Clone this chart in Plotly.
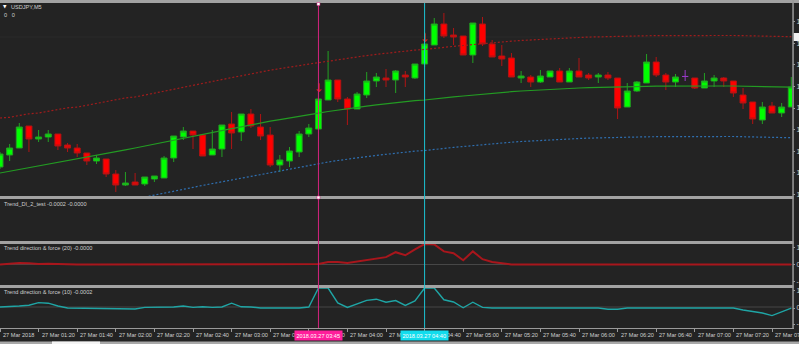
import plotly.graph_objects as go
from plotly.subplots import make_subplots

W, H = 799, 344
PLOT_R = 792          # right edge of the plot area in px
PX_PER_BAR = 9.65

# ---------------- data ----------------
bar_index = list(range(83))

opens = [
    105.5825, 105.6125, 105.63, 105.685, 105.6525, 105.6575, 105.665, 105.6375, 105.63, 105.6175,
    105.5975, 105.6025, 105.565, 105.5375, 105.545, 105.54, 105.5525, 105.555, 105.605, 105.6575,
    105.6725, 105.6625, 105.6125, 105.6275, 105.69, 105.67, 105.715, 105.6825, 105.6625, 105.5875,
    105.5975, 105.62, 105.665, 105.6775, 105.75, 105.8, 105.7525, 105.7275, 105.7625, 105.7975,
    105.805, 105.8, 105.8125, 105.805, 105.84, 105.8875, 105.94, 105.9125, 105.91, 105.8625,
    105.94, 105.89, 105.86, 105.855, 105.805, 105.8075, 105.795, 105.8075, 105.8225, 105.795,
    105.8225, 105.8125, 105.8075, 105.8125, 105.805, 105.7325, 105.7725, 105.7925, 105.845, 105.8125,
    105.795, 105.8088, 105.805, 105.78, 105.7975, 105.805, 105.7975, 105.7625, 105.745, 105.7,
    105.735, 105.7175, 105.7325]
highs = [
    105.62, 105.64, 105.6925, 105.685, 105.675, 105.675, 105.665, 105.6425, 105.64, 105.6175,
    105.6125, 105.6025, 105.575, 105.57, 105.5675, 105.5575, 105.56, 105.61, 105.66, 105.6825,
    105.6725, 105.6625, 105.675, 105.6875, 105.72, 105.715, 105.7275, 105.715, 105.6825, 105.6125,
    105.6325, 105.6725, 105.69, 105.7925, 105.8725, 105.8, 105.7575, 105.77, 105.82, 105.8175,
    105.8275, 105.825, 105.8225, 105.84, 105.92, 105.955, 105.9675, 105.93, 105.91, 105.9425,
    105.9575, 105.9, 105.8875, 105.8675, 105.8225, 105.8125, 105.825, 105.8225, 105.83, 105.83,
    105.855, 105.8175, 105.8175, 105.82, 105.805, 105.7925, 105.7975, 105.865, 105.8575, 105.8175,
    105.815, 105.825, 105.805, 105.8175, 105.8125, 105.8075, 105.7975, 105.78, 105.745, 105.745,
    105.745, 105.7425, 105.8075]
lows = [
    105.5775, 105.5975, 105.63, 105.62, 105.645, 105.645, 105.625, 105.62, 105.6075, 105.5875,
    105.59, 105.5575, 105.52, 105.535, 105.5375, 105.535, 105.545, 105.555, 105.595, 105.65,
    105.6275, 105.61, 105.6125, 105.6075, 105.6275, 105.6475, 105.68, 105.65, 105.5825, 105.57,
    105.5825, 105.6075, 105.6575, 105.6775, 105.75, 105.745, 105.6875, 105.7275, 105.755, 105.7825,
    105.7825, 105.7675, 105.7825, 105.8025, 105.8325, 105.8875, 105.905, 105.8875, 105.8625, 105.8425,
    105.885, 105.8575, 105.835, 105.8075, 105.7925, 105.7825, 105.7925, 105.8075, 105.795, 105.795,
    105.8075, 105.8, 105.7925, 105.8, 105.7025, 105.7325, 105.77, 105.7925, 105.8075, 105.775,
    105.7825, 105.7975, 105.7775, 105.78, 105.7825, 105.7825, 105.7575, 105.7275, 105.69, 105.69,
    105.7175, 105.7075, 105.7325]
closes = [
    105.615, 105.63, 105.6825, 105.6525, 105.6575, 105.665, 105.635, 105.63, 105.6175, 105.5975,
    105.605, 105.565, 105.5375, 105.5425, 105.5375, 105.5575, 105.56, 105.605, 105.66, 105.6725,
    105.6625, 105.61, 105.6275, 105.6875, 105.6675, 105.715, 105.685, 105.66, 105.5875, 105.6,
    105.6225, 105.665, 105.68, 105.7525, 105.8, 105.7525, 105.7275, 105.765, 105.7975, 105.8075,
    105.8, 105.8225, 105.8075, 105.84, 105.89, 105.94, 105.91, 105.9075, 105.8625, 105.9425,
    105.89, 105.8575, 105.8525, 105.8075, 105.81, 105.795, 105.81, 105.8225, 105.795, 105.8225,
    105.8075, 105.805, 105.8125, 105.805, 105.73, 105.7725, 105.795, 105.845, 105.8125, 105.795,
    105.8075, 105.8088, 105.78, 105.7975, 105.805, 105.7975, 105.7675, 105.7425, 105.7025, 105.7325,
    105.7175, 105.7325, 105.7825]
doji_bars = [71]

ma = [
    105.5675, 105.5718, 105.5763, 105.5805, 105.585, 105.589, 105.5935, 105.598, 105.6023, 105.6068,
    105.611, 105.6155, 105.6205, 105.6253, 105.63, 105.635, 105.6395, 105.6445, 105.6495, 105.654,
    105.659, 105.664, 105.6685, 105.6735, 105.6785, 105.683, 105.688, 105.6925, 105.697, 105.701,
    105.7055, 105.7095, 105.7135, 105.7173, 105.7213, 105.725, 105.7288, 105.7318, 105.7348, 105.7378,
    105.7408, 105.7438, 105.746, 105.7485, 105.75, 105.753, 105.7555, 105.7578, 105.76, 105.7625,
    105.7648, 105.767, 105.7693, 105.7708, 105.7725, 105.774, 105.7755, 105.777, 105.778, 105.779,
    105.78, 105.781, 105.7818, 105.7825, 105.783, 105.7835, 105.784, 105.7843, 105.7845, 105.7848,
    105.785, 105.785, 105.785, 105.785, 105.785, 105.785, 105.785, 105.7848, 105.7843, 105.7838,
    105.783, 105.7825, 105.782]
env_upper = [
    105.705, 105.7068, 105.7113, 105.7155, 105.7175, 105.7215, 105.726, 105.7305, 105.7323, 105.7368,
    105.741, 105.7455, 105.7505, 105.7553, 105.7575, 105.7625, 105.767, 105.772, 105.777, 105.7815,
    105.7865, 105.7915, 105.796, 105.801, 105.806, 105.8105, 105.8155, 105.82, 105.8245, 105.8285,
    105.833, 105.8358, 105.8398, 105.8436, 105.8476, 105.8513, 105.8551, 105.8581, 105.8611, 105.8641,
    105.8671, 105.8701, 105.8723, 105.8748, 105.8763, 105.8793, 105.8818, 105.8841, 105.8863, 105.8888,
    105.8911, 105.8933, 105.8956, 105.8971, 105.8988, 105.9003, 105.9018, 105.9033, 105.9043, 105.9053,
    105.9063, 105.9073, 105.9081, 105.9088, 105.9093, 105.9098, 105.9103, 105.9106, 105.9108, 105.9111,
    105.9113, 105.9113, 105.9113, 105.9113, 105.9113, 105.9113, 105.9113, 105.9111, 105.9106, 105.9101,
    105.9093, 105.9088, 105.9083]
env_lower = [
    105.43, 105.4368, 105.4413, 105.4455, 105.4525, 105.4565, 105.461, 105.4655, 105.4723, 105.4768,
    105.481, 105.4855, 105.4905, 105.4953, 105.5025, 105.5075, 105.512, 105.517, 105.522, 105.5265,
    105.5315, 105.5365, 105.541, 105.546, 105.551, 105.5555, 105.5605, 105.565, 105.5695, 105.5735,
    105.578, 105.5832, 105.5872, 105.591, 105.595, 105.5987, 105.6025, 105.6055, 105.6085, 105.6115,
    105.6145, 105.6175, 105.6197, 105.6222, 105.6237, 105.6267, 105.6292, 105.6315, 105.6337, 105.6362,
    105.6385, 105.6407, 105.643, 105.6445, 105.6462, 105.6477, 105.6492, 105.6507, 105.6517, 105.6527,
    105.6537, 105.6547, 105.6555, 105.6562, 105.6567, 105.6572, 105.6577, 105.658, 105.6582, 105.6585,
    105.6587, 105.6587, 105.6587, 105.6587, 105.6587, 105.6587, 105.6587, 105.6585, 105.658, 105.6575,
    105.6567, 105.6562, 105.6557]

trend_force_20 = [
    0.0, 0.05, 0.07, 0.06, 0.03, 0.04, 0.02, 0.01, 0.0, 0.0,
    0.0, 0.0, 0.0, 0.0, 0.0, 0.0, 0.0, 0.0, 0.0, 0.0,
    0.0, 0.0, 0.0, 0.0, 0.03, 0.03, 0.01, 0.0, 0.0, 0.0,
    0.0, 0.0, 0.0, 0.02, 0.12, 0.12, 0.07, 0.14, 0.21, 0.29,
    0.36, 0.6, 0.45, 0.74, 1.0, 0.98, 0.64, 0.55, 0.21, 0.64,
    0.26, 0.12, 0.05, 0.0, 0.0, 0.0, 0.0, 0.0, 0.0, 0.0,
    0.0, 0.0, 0.0, 0.0, 0.0, 0.0, 0.0, 0.0, 0.0, 0.0,
    0.0, 0.0, 0.0, 0.0, 0.0, 0.0, 0.0, 0.0, 0.0, 0.0,
    0.0, 0.0, 0.0]
trend_force_10 = [
    0.05, 0.06, 0.1, 0.14, 0.27, 0.24, 0.1, 0.0, -0.01, -0.01,
    -0.01, -0.05, -0.05, -0.05, -0.05, 0.03, 0.03, 0.03, 0.05, 0.1,
    0.03, 0.06, 0.03, 0.05, 0.24, 0.06, 0.05, 0.0, 0.0, 0.0,
    0.0, 0.0, 0.05, 1.0, 1.0, 0.25, 0.03, 0.19, 0.38, 0.44,
    0.29, 0.37, 0.13, 0.35, 1.0, 1.0, 0.41, 0.3, 0.01, 0.29,
    0.03, 0.0, 0.0, 0.0, 0.0, 0.0, 0.0, 0.0, 0.0, 0.0,
    0.0, 0.0, 0.0, -0.06, -0.06, 0.0, 0.0, 0.0, 0.0, 0.0,
    0.0, 0.0, 0.0, 0.0, 0.0, 0.0, 0.0, -0.1, -0.18, -0.25,
    -0.38, -0.21, -0.01]

signal_bars = [33, 44]
signal_prices = [105.7775, 105.9025]

time_tick_bars = [0, 4, 8, 12, 16, 20, 24, 28, 32, 36, 40, 44, 48, 52, 56, 60, 64, 68, 72, 76, 80]
time_tick_labels = ["27 Mar 2018", "27 Mar 01:20", "27 Mar 01:40", "27 Mar 02:00", "27 Mar 02:20",
                    "27 Mar 02:40", "27 Mar 03:00", "27 Mar 03:20", "27 Mar 03:40", "27 Mar 04:00",
                    "27 Mar 04:20", "27 Mar 04:40", "27 Mar 05:00", "27 Mar 05:20", "27 Mar 05:40",
                    "27 Mar 06:00", "27 Mar 06:20", "27 Mar 06:40", "27 Mar 07:00", "27 Mar 07:20",
                    "27 Mar 07:40"]

vline_bars = [33, 44]
vline_labels = ["2018.03.27 03:45", "2018.03.27 04:40"]
vline_colors = ["#d4237f", "#1cc4d4"]
vline_label_bg = ["#ff1e9b", "#12dced"]

price_ticks = [105.946, 105.892, 105.838, 105.784, 105.730, 105.676, 105.622, 105.568, 105.514]
price_tick_labels = ["105.946", "105.892", "105.838", "105.784", "105.730",
                     "105.676", "105.622", "105.568", "105.514"]
hline_price = 105.9075

pane2_ticks = [0.94, 0.0, -0.3]
pane2_tick_labels = ["1.0000", "0.0000", "-0.0003"]
pane3_ticks = [0.85, 0.0, -0.83]
pane3_tick_labels = ["1.0000", "0.0000", "-1.0000"]
pane4_ticks = [0.88, 0.0, -0.8]
pane4_tick_labels = ["1.0000", "0.0000", "-1.0000"]

# ---------------- figure ----------------
BG = "#232323"
SEP = "#a2a2a2"
TXT = "#cfcfcf"
FONT = "Liberation Sans"


def py(y):
    return 1 - y / H


def px(x):
    return x / PLOT_R


fig = make_subplots(rows=4, cols=1, shared_xaxes=True, vertical_spacing=0)

keep = [i for i in bar_index if i not in doji_bars]
fig.add_trace(go.Candlestick(
    x=[bar_index[i] for i in keep],
    open=[opens[i] for i in keep], high=[highs[i] for i in keep],
    low=[lows[i] for i in keep], close=[closes[i] for i in keep],
    increasing=dict(line=dict(color="#23a023", width=1), fillcolor="#00ff00"),
    decreasing=dict(line=dict(color="#b01414", width=1), fillcolor="#ff0000"),
    whiskerwidth=0, hoverinfo="skip"), row=1, col=1)
fig.add_trace(go.Candlestick(
    x=[bar_index[i] for i in doji_bars],
    open=[opens[i] for i in doji_bars], high=[highs[i] for i in doji_bars],
    low=[lows[i] for i in doji_bars], close=[closes[i] for i in doji_bars],
    increasing=dict(line=dict(color="#9a3ac8", width=1), fillcolor="#9a3ac8"),
    decreasing=dict(line=dict(color="#9a3ac8", width=1), fillcolor="#9a3ac8"),
    whiskerwidth=0, hoverinfo="skip"), row=1, col=1)

fig.add_trace(go.Scatter(x=bar_index, y=ma, mode="lines",
                         line=dict(color="#239b23", width=1.2), hoverinfo="skip"), row=1, col=1)
fig.add_trace(go.Scatter(x=bar_index, y=env_upper, mode="lines",
                         line=dict(color="#a01c1c", width=1.2, dash="2px,2px"), hoverinfo="skip"), row=1, col=1)
fig.add_trace(go.Scatter(x=bar_index, y=env_lower, mode="lines",
                         line=dict(color="#2f6fb0", width=1.2, dash="2px,2px"), hoverinfo="skip"), row=1, col=1)
fig.add_trace(go.Scatter(x=signal_bars, y=signal_prices, mode="text", text=["↓"] * len(signal_bars),
                         textposition="middle center",
                         textfont=dict(family="DejaVu Sans", size=12, color="#dc1e1e"),
                         hoverinfo="skip"), row=1, col=1)

fig.add_trace(go.Scatter(x=bar_index, y=trend_force_20, mode="lines",
                         line=dict(color="#a8161c", width=2), hoverinfo="skip"), row=3, col=1)
fig.add_trace(go.Scatter(x=bar_index, y=trend_force_10, mode="lines",
                         line=dict(color="#1fa5a5", width=1.4), hoverinfo="skip"), row=4, col=1)

xrange = [0, PLOT_R / PX_PER_BAR]
for i in range(1, 5):
    fig.update_xaxes(row=i, col=1, range=xrange, showgrid=False, zeroline=False,
                     showticklabels=False, ticks="", showline=False,
                     rangeslider=dict(visible=False), fixedrange=True)
fig.update_xaxes(row=4, col=1, tickmode="array", tickvals=time_tick_bars, ticks="outside",
                 ticklen=3, tickcolor="#9a9a9a", tickwidth=1)

yfont = dict(family=FONT, size=7, color=TXT)
common_y = dict(side="right", showgrid=False, zeroline=False, showline=False, ticks="outside",
                ticklen=2, tickcolor="#9a9a9a", tickfont=yfont, automargin=False, fixedrange=True)
fig.update_layout(
    yaxis=dict(domain=[py(196), py(3)], range=[105.51, 105.9925],
               tickmode="array", tickvals=price_ticks, ticktext=price_tick_labels, **common_y),
    yaxis2=dict(domain=[py(241), py(199)], range=[-0.45, 1.05],
                tickmode="array", tickvals=pane2_ticks, ticktext=pane2_tick_labels, **common_y),
    yaxis3=dict(domain=[py(285), py(244)], range=[-1, 1],
                tickmode="array", tickvals=pane3_ticks, ticktext=pane3_tick_labels, **common_y),
    yaxis4=dict(domain=[py(328), py(288)], range=[-1, 1],
                tickmode="array", tickvals=pane4_ticks, ticktext=pane4_tick_labels, **common_y),
)

shapes = []
# window / pane separators
shapes.append(dict(type="rect", xref="paper", yref="paper", x0=0, x1=px(W), y0=py(3), y1=1,
                   fillcolor=SEP, line=dict(width=0), layer="above"))
for (a, b) in [(196, 199), (241, 244), (285, 288)]:
    shapes.append(dict(type="rect", xref="paper", yref="paper", x0=0, x1=px(793.5), y0=py(b), y1=py(a),
                       fillcolor=SEP, line=dict(width=0), layer="above"))
# bottom time axis line and right price axis line
shapes.append(dict(type="rect", xref="paper", yref="paper", x0=0, x1=px(794), y0=py(329), y1=py(328),
                   fillcolor="#9a9a9a", line=dict(width=0), layer="above"))
shapes.append(dict(type="rect", xref="paper", yref="paper", x0=px(792.3), x1=px(793.8), y0=py(329), y1=1,
                   fillcolor="#9a9a9a", line=dict(width=0), layer="above"))
# bottom tab strip
shapes.append(dict(type="rect", xref="paper", yref="paper", x0=0, x1=px(W), y0=0, y1=py(341.5),
                   fillcolor="#a8a8a8", line=dict(width=0)))
shapes.append(dict(type="rect", xref="paper", yref="paper", x0=px(52), x1=px(100), y0=0, y1=py(341.5),
                   fillcolor="#f4f4f4", line=dict(width=0)))
# faint horizontal price line + its label box
shapes.append(dict(type="line", xref="x", yref="y", x0=xrange[0], x1=xrange[1], y0=hline_price, y1=hline_price,
                   line=dict(color="#2a2a2a", width=1), layer="below"))
shapes.append(dict(type="rect", xref="paper", yref="paper", x0=px(793.8), x1=px(W), y0=py(41), y1=py(33),
                   fillcolor="#f2f2f2", line=dict(width=0), layer="above"))
# zero levels in indicator panes
shapes.append(dict(type="line", xref="x3", yref="y3", x0=xrange[0], x1=xrange[1], y0=0, y1=0,
                   line=dict(color="#474747", width=1), layer="below"))
shapes.append(dict(type="line", xref="x4", yref="y4", x0=xrange[0], x1=xrange[1], y0=0.05, y1=0.05,
                   line=dict(color="#474747", width=1), layer="below"))
# vertical lines
for b, c in zip(vline_bars, vline_colors):
    shapes.append(dict(type="line", xref="x", yref="paper", x0=b, x1=b, y0=py(328), y1=py(3),
                       line=dict(color=c, width=1), layer="above"))
# anchor squares of the selected vertical line
for yy in (4, 197.5):
    shapes.append(dict(type="rect", xref="x", yref="paper", xsizemode="pixel", xanchor=vline_bars[0],
                       x0=-1.5, x1=1.5, ysizemode="pixel", yanchor=py(yy), y0=-1.5, y1=1.5,
                       fillcolor="#ffffff", line=dict(color=vline_colors[0], width=0.5), layer="above"))

ann = []
small = dict(family=FONT, size=5.6, color=TXT)
ann.append(dict(x=px(4.5), y=py(6.3), xref="paper", yref="paper", text="▼", showarrow=False,
                font=dict(family="DejaVu Sans", size=4.5, color="#ffffff"), xanchor="center", yanchor="middle"))
ann.append(dict(x=px(8.5), y=py(7), xref="paper", yref="paper", text="USDJPY,M5", showarrow=False,
                font=small, xanchor="left", yanchor="middle"))
ann.append(dict(x=px(1.5), y=py(15), xref="paper", yref="paper", text="0&nbsp;&nbsp;&nbsp;0", showarrow=False,
                font=small, xanchor="left", yanchor="middle"))
for txt, yy in [("Trend_DI_2_test -0.0002 -0.0000", 204.5),
                ("Trend direction &amp; force (20) -0.0000", 248.5),
                ("Trend direction &amp; force (10) -0.0002", 292)]:
    ann.append(dict(x=px(2), y=py(yy), xref="paper", yref="paper", text=txt, showarrow=False,
                    font=small, xanchor="left", yanchor="middle"))
for b, t in zip(time_tick_bars, time_tick_labels):
    ann.append(dict(x=b, xref="x4", y=py(335), yref="paper", text=t, showarrow=False,
                    font=small, xanchor="left", yanchor="middle", xshift=1))
for b, t, bg in zip(vline_bars, vline_labels, vline_label_bg):
    ann.append(dict(x=b, xref="x4", y=py(335), yref="paper", text=t, showarrow=False,
                    font=dict(family=FONT, size=5.6, color="#ffffff"), bgcolor=bg, borderpad=1.5,
                    xanchor="center", yanchor="middle"))

fig.update_layout(
    width=W, height=H, margin=dict(l=0, r=W - PLOT_R, t=0, b=0),
    paper_bgcolor=BG, plot_bgcolor=BG, showlegend=False, hovermode=False,
    boxgap=0.38, boxgroupgap=0, shapes=shapes, annotations=ann,
)

fig.write_html("out.html", config={"displayModeBar": False})
